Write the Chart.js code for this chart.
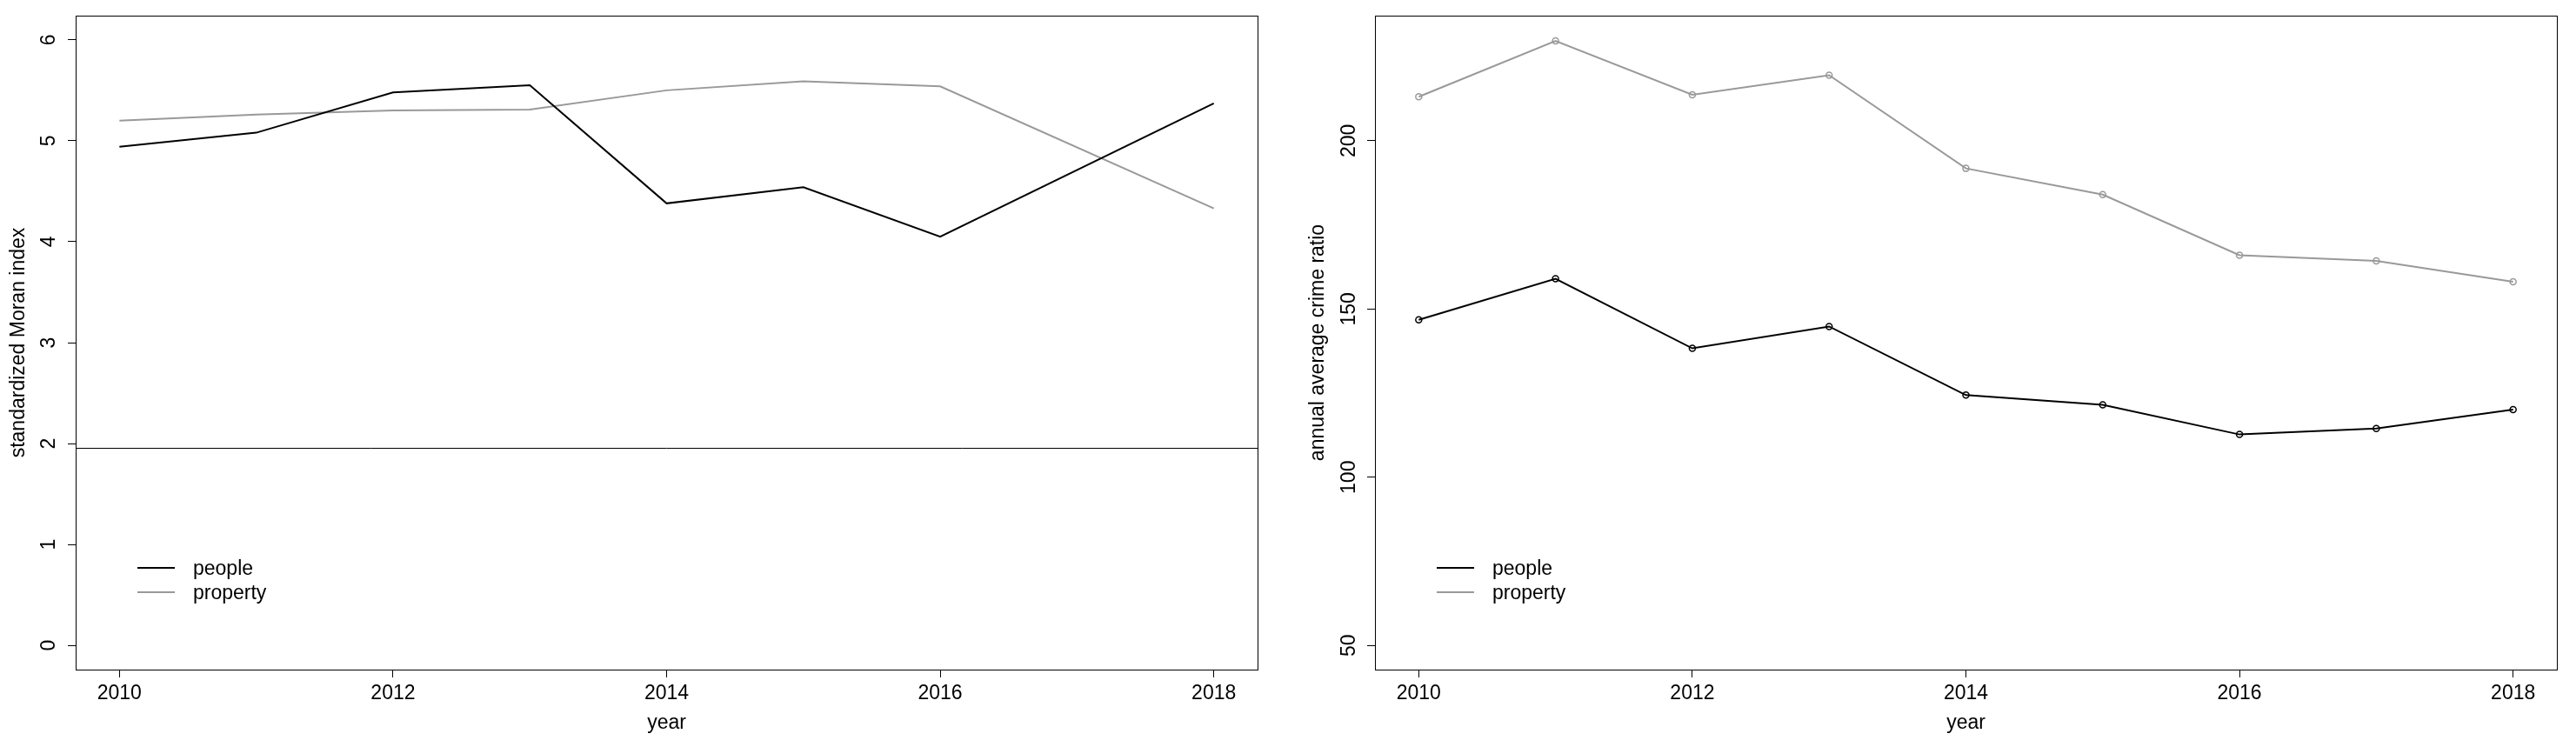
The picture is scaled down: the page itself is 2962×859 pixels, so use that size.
<!DOCTYPE html>
<html>
<head>
<meta charset="utf-8">
<script src="https://cdn.jsdelivr.net/npm/chart.js@4.4.1/dist/chart.umd.min.js"></script>
<style>
  html, body { margin: 0; padding: 0; background: #fff; }
  #wrap { position: relative; width: 2962px; height: 859px; }
  .panel { position: absolute; top: 0; width: 1481px; height: 859px; }
</style>
</head>
<body>
<div id="wrap">
  <div class="panel" style="left:0"><canvas id="moranChart" width="1481" height="859"></canvas></div>
  <div class="panel" style="left:1481px"><canvas id="crimeChart" width="1481" height="859"></canvas></div>
</div>
<script>
const years = [2010, 2011, 2012, 2013, 2014, 2015, 2016, 2017, 2018];
const yearTicks = [2010, 2012, 2014, 2016, 2018];

// left panel: standardized Moran index (no 2017 value)
const moranPeople = [4.94, 5.08, 5.48, 5.55, 4.38, 4.54, 4.05, null, 5.37];
const moranProperty = [5.20, 5.26, 5.30, 5.31, 5.50, 5.59, 5.54, null, 4.33];
const moranRef = 1.96;
const moranTicks = [0, 1, 2, 3, 4, 5, 6];

// right panel: annual average crime ratio
const crimePeople = [146.8, 159.0, 138.3, 144.8, 124.4, 121.5, 112.7, 114.5, 120.1];
const crimeProperty = [213.1, 229.7, 213.7, 219.5, 191.8, 184.0, 166.0, 164.3, 158.1];
const crimeTicks = [50, 100, 150, 200];

const seriesNames = ['people', 'property'];
const seriesColors = ['#000000', '#999999'];

Chart.defaults.font.family = '"Liberation Sans", Arial, sans-serif';
Chart.defaults.font.size = 23;
Chart.defaults.color = '#000';

const toPoints = vals => years.map((y, i) => ({ x: y, y: vals[i] }));

// box around the plot region + optional horizontal reference line
const framePlugin = {
  id: 'frame',
  afterDatasetsDraw(chart, args, opts) {
    const { ctx, chartArea: a, scales } = chart;
    ctx.save();
    ctx.strokeStyle = '#000';
    ctx.lineWidth = 1;
    if (opts.refLine != null) {
      const y = Math.round(scales.y.getPixelForValue(opts.refLine)) + 0.5;
      ctx.beginPath();
      ctx.moveTo(a.left, y);
      ctx.lineTo(a.right, y);
      ctx.stroke();
    }
    ctx.strokeRect(Math.round(a.left) + 0.5, Math.round(a.top) + 0.5,
      Math.round(a.right - a.left), Math.round(a.bottom - a.top));
    ctx.restore();
  }
};

// R style legend without box, bottom left inside the plot
const lineLegend = {
  id: 'lineLegend',
  afterDraw(chart) {
    const { ctx, chartArea: a } = chart;
    ctx.save();
    ctx.font = '23px "Liberation Sans", Arial, sans-serif';
    ctx.textBaseline = 'middle';
    ctx.textAlign = 'left';
    chart.data.datasets.forEach((ds, i) => {
      const y = a.bottom - 117 + i * 28;
      ctx.strokeStyle = ds.borderColor;
      ctx.lineWidth = 2;
      ctx.beginPath();
      ctx.moveTo(a.left + 71, y);
      ctx.lineTo(a.left + 114, y);
      ctx.stroke();
      ctx.fillStyle = '#000';
      ctx.fillText(ds.label, a.left + 135, y + 1.5);
    });
    ctx.restore();
  }
};

function makeChart(id, cfg) {
  const datasets = cfg.series.map((vals, i) => ({
    label: seriesNames[i],
    data: toPoints(vals),
    borderColor: seriesColors[i],
    backgroundColor: seriesColors[i],
    borderWidth: 2,
    tension: 0,
    spanGaps: true,
    pointRadius: cfg.points ? 3.5 : 0,
    pointBorderWidth: 1.5,
    pointBorderColor: seriesColors[i],
    pointBackgroundColor: 'rgba(0,0,0,0)'
  }));

  return new Chart(document.getElementById(id), {
    type: 'line',
    data: { datasets },
    options: {
      responsive: false,
      animation: false,
      layout: { padding: { top: 18, right: cfg.rightPad, bottom: 0, left: 0 } },
      plugins: {
        legend: { display: false },
        tooltip: { enabled: false },
        frame: { refLine: cfg.refLine }
      },
      scales: {
        x: {
          type: 'linear',
          min: 2009.68,
          max: 2018.32,
          afterBuildTicks: s => { s.ticks = yearTicks.map(v => ({ value: v })); },
          afterFit: s => { s.height = 89; s.paddingLeft = 0; s.paddingRight = 0; },
          border: { display: false },
          grid: { drawOnChartArea: false, drawTicks: true, tickLength: 9, color: '#000', lineWidth: 1 },
          ticks: { padding: 5, maxRotation: 0, callback: v => String(v) },
          title: { display: true, text: 'year', padding: { top: 0, bottom: 14 } }
        },
        y: {
          type: 'linear',
          min: cfg.yMin,
          max: cfg.yMax,
          afterBuildTicks: s => { s.ticks = cfg.yTicks.map(v => ({ value: v })); },
          afterFit: s => { s.width = cfg.axisWidth; s.paddingTop = 0; s.paddingBottom = 0; },
          border: { display: false },
          grid: { drawOnChartArea: false, drawTicks: true, tickLength: 9, color: '#000', lineWidth: 1 },
          ticks: {
            minRotation: 90, maxRotation: 90, crossAlign: 'center',
            padding: cfg.tickPad, callback: v => String(v)
          },
          title: { display: true, text: cfg.yTitle, padding: { top: cfg.titlePad, bottom: 0 } }
        }
      }
    },
    plugins: [framePlugin, lineLegend]
  });
}

makeChart('moranChart', {
  series: [moranPeople, moranProperty],
  points: false,
  refLine: moranRef,
  yMin: -0.24, yMax: 6.24,
  yTicks: moranTicks,
  yTitle: 'standardized Moran index',
  axisWidth: 87,
  rightPad: 35,
  tickPad: 14.6,
  titlePad: 8
});

makeChart('crimeChart', {
  series: [crimePeople, crimeProperty],
  points: true,
  refLine: null,
  yMin: 42.8, yMax: 237.2,
  yTicks: crimeTicks,
  yTitle: 'annual average crime ratio',
  axisWidth: 100,
  rightPad: 22,
  tickPad: 0.8,
  titlePad: 21
});
</script>
</body>
</html>
